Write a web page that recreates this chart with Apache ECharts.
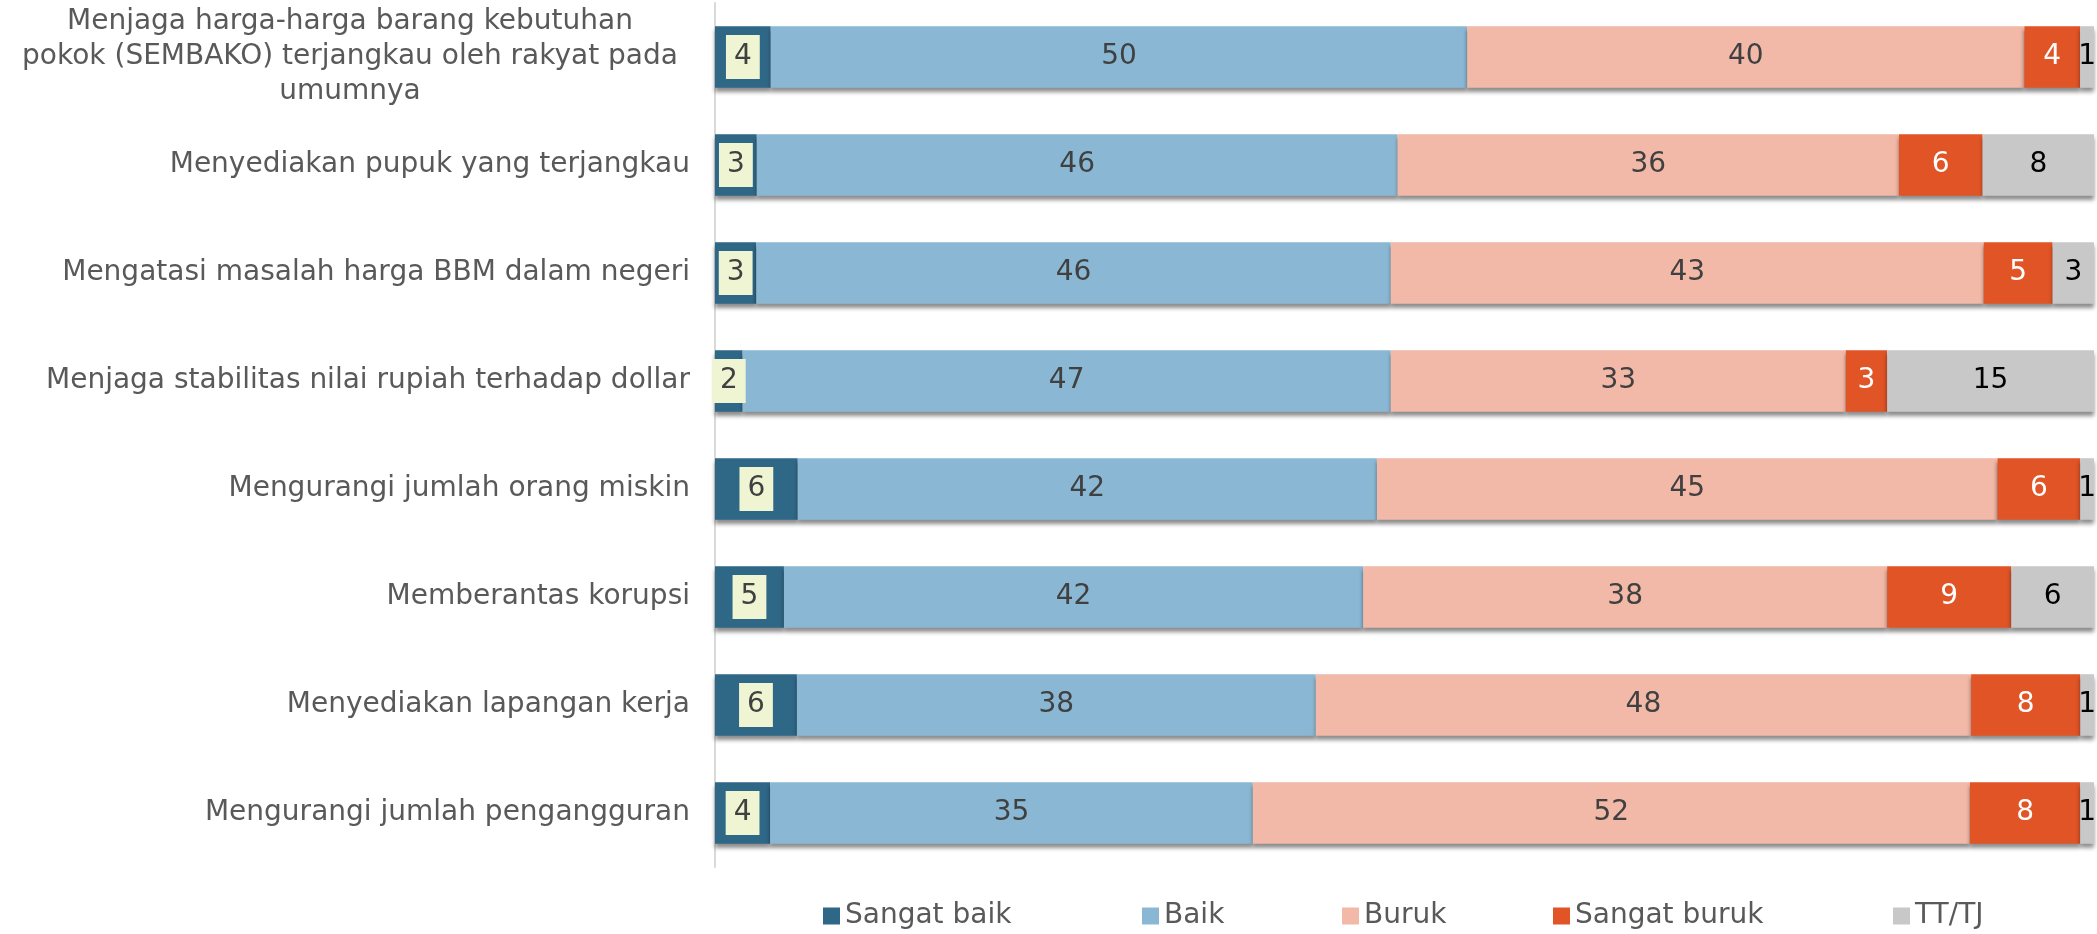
<!DOCTYPE html>
<html>
<head>
<meta charset="utf-8">
<style>
  html, body { margin: 0; padding: 0; background: #fff; }
  #chart { width: 2097px; height: 934px; }
</style>
<script src="https://cdn.jsdelivr.net/npm/echarts@6/dist/echarts.min.js"></script>
</head>
<body>
<div id="chart"></div>
<script>
const categories = [
  'Menjaga harga-harga barang kebutuhan\npokok (SEMBAKO) terjangkau oleh rakyat pada\numumnya',
  'Menyediakan pupuk yang terjangkau',
  'Mengatasi masalah harga BBM dalam negeri',
  'Menjaga stabilitas nilai rupiah terhadap dollar',
  'Mengurangi jumlah orang miskin',
  'Memberantas korupsi',
  'Menyediakan lapangan kerja',
  'Mengurangi jumlah pengangguran'
]
const seriesNames = ['Sangat baik', 'Baik', 'Buruk', 'Sangat buruk', 'TT/TJ']
const sangatBaik = [4, 3, 3, 2, 6, 5, 6, 4]
const baik = [50, 46, 46, 47, 42, 42, 38, 35]
const buruk = [40, 36, 43, 33, 45, 38, 48, 52]
const sangatBuruk = [4, 6, 5, 3, 6, 9, 8, 8]
const ttTj = [1, 8, 3, 15, 1, 6, 1, 1]

const values = [sangatBaik, baik, buruk, sangatBuruk, ttTj]
const colors = ['#2f6787', '#8ab8d4', '#f2b9a8', '#e05426', '#c8c8c8']
const labelColors = ['#404040', '#404040', '#404040', '#ffffff', '#000000']
// legend items sit at fixed x positions like the original
const legendLeft = [818, 1137, 1337, 1548, 1888]
const fontFamily = 'DejaVu Sans'
const fontSize = 28

// 100% stacked: each row scaled to its own total, label keeps the raw number
const rowTotals = categories.map((c, i) => values.reduce((s, arr) => s + arr[i], 0))

const chart = echarts.init(document.getElementById('chart'))

chart.setOption({
  animation: false,
  grid: {
    left: 715,
    right: 3,
    top: 3,
    bottom: 67
  },
  legend: seriesNames.map((name, i) => ({
    left: legendLeft[i],
    top: 897,
    itemWidth: 17,
    itemHeight: 17,
    itemGap: 5,
    icon: 'rect',
    textStyle: {
      fontFamily,
      fontSize,
      color: '#595959'
    },
    data: [name]
  })),
  xAxis: {
    type: 'value',
    min: 0,
    max: 100,
    show: false
  },
  yAxis: {
    type: 'category',
    inverse: true,
    data: categories,
    axisTick: { show: false },
    axisLine: {
      lineStyle: { color: '#d9d9d9', width: 2 }
    },
    axisLabel: {
      margin: 25,
      fontFamily,
      fontSize,
      color: '#595959',
      formatter (val) {
        return val.indexOf('\n') >= 0 ? '{c|' + val + '}' : val
      },
      rich: {
        c: {
          width: 680,
          align: 'center',
          fontFamily,
          fontSize,
          lineHeight: 35,
          color: '#595959'
        }
      }
    }
  },
  series: seriesNames.map((name, si) => ({
    name,
    type: 'bar',
    stack: 'total',
    barWidth: '57%',
    itemStyle: {
      color: colors[si],
      shadowColor: 'rgba(0, 0, 0, 0.45)',
      shadowBlur: 4,
      shadowOffsetY: 4
    },
    label: {
      show: true,
      position: 'inside',
      fontFamily,
      fontSize,
      color: labelColors[si],
      formatter: p => p.data.raw,
      ...(si === 0 ? {
        backgroundColor: '#eff5d3',
        padding: [9, 8, 7, 8]
      } : {})
    },
    data: values[si].map((v, i) => ({
      value: v / rowTotals[i] * 100,
      raw: v
    }))
  }))
})
</script>
</body>
</html>
